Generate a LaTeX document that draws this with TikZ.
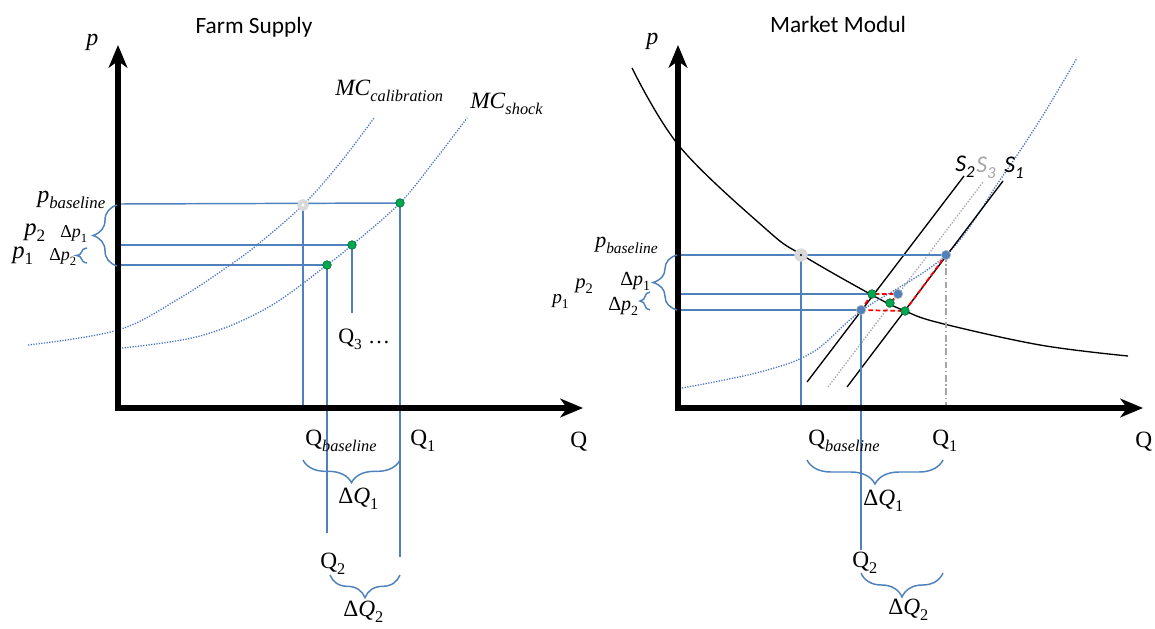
\documentclass[tikz,border=0pt]{standalone}
\usepackage{fontspec}
\setmainfont{Liberation Serif}
\newfontfamily\calibri{Carlito}
\usetikzlibrary{arrows.meta,decorations.pathreplacing}
\definecolor{lineblue}{HTML}{4F81BD}
\definecolor{dotblue}{HTML}{4472C4}
\definecolor{ptgreen}{HTML}{00A650}
\definecolor{ptblue}{HTML}{4F81BD}
\definecolor{ptgrey}{HTML}{D9D9D9}
\definecolor{sgrey}{HTML}{A6A6A6}
\newcommand{\fs}[1]{\fontsize{#1}{#1}\selectfont}
\newcommand{\sbs}[1]{\lower0.12em\hbox{\textsubscript{#1}}}
\begin{document}
\begin{tikzpicture}[x=0.75pt,y=-0.75pt,
  axis/.style={line width=4.5pt,-{Stealth[length=17pt,width=14pt,inset=5pt]}},
  bline/.style={draw=lineblue,line width=1.1pt},
  mcurve/.style={draw=dotblue,line width=1pt,dash pattern=on 0.9pt off 1.1pt},
  dcurve/.style={draw=black,line width=1pt},
  bbrace/.style={draw=lineblue,line width=1.1pt,decorate,decoration={brace,amplitude=#1}},
  lbl/.style={inner sep=0pt,anchor=base west},
  ptg/.style={circle,fill=ptgreen,draw=ptgreen!60!black,line width=0.4pt,minimum size=6.5pt,inner sep=0pt},
  ptb/.style={circle,fill=ptblue,draw=gray!60,line width=0.5pt,minimum size=7pt,inner sep=0pt},
  ptgr/.style={circle,fill=ptgrey,draw=ptgrey,minimum size=8.5pt,inner sep=0pt},
  redd/.style={draw=red,line width=1.3pt,dash pattern=on 3.5pt off 2pt}
]
\useasboundingbox (0,0) rectangle (1155,628);

%================ LEFT PANEL =================
\node[inner sep=0pt,anchor=base] (t1) at (254,33) {\calibri\fs{17.5}Farm Supply};
% curves
\draw[mcurve] plot[smooth,tension=0.6] coordinates {(28,345) (118,330) (180,298) (230,265) (257,245) (303,205) (340,163) (374,118)};
\draw[mcurve] plot[smooth,tension=0.6] coordinates {(122,348) (200,336) (267,308) (327,265) (352,245) (400,203) (435,160) (467,118)};
\node[lbl] (mcc) at (335,95) {\fs{17.5}\textit{MC}\sbs{\textit{calibration}}};
\node[lbl] (mcs) at (470,108) {\fs{17.5}\textit{MC}\sbs{\textit{shock}}};
% points
\coordinate (LPb) at (303,205);
\coordinate (LP1) at (400,203);
\coordinate (LP3) at (352,245);
\coordinate (LP2) at (327,265);
\coordinate (LAb) at (119,204);
\coordinate (LA3) at (119,245);
\coordinate (LA2) at (119,265);
\coordinate (LXb) at (303,408);
\coordinate (LX1) at (400,557);
\coordinate (LX2) at (327,533);
\coordinate (LX3) at (352,313);
\draw[bline] (LAb) -- (LP1);
\draw[bline] (LA3) -- (LP3);
\draw[bline] (LA2) -- (LP2);
\draw[bline] (LPb) -- (LXb);
\draw[bline] (LP1) -- (LX1);
\draw[bline] (LP2) -- (LX2);
\draw[bline] (LP3) -- (LX3);
% axes
\draw[axis] (115,408) -- (583,408);
\draw[axis] (118,411) -- (118,45);
\node[lbl] (lp) at (86,45) {\fs{18}\textit{p}};
\node[lbl] (lq) at (570,447) {\fs{17.5}Q};
% point markers
\node[ptgr] (lpbm) at (LPb) {};
\fill[white] (LPb) circle (1.2pt);
\node[ptg] (lp1m) at (LP1) {};
\node[ptg] (lp3m) at (LP3) {};
\node[ptg] (lp2m) at (LP2) {};
% braces
\draw[bbrace=18pt] (117,266) -- (117,205);
\draw[bbrace=8pt] (87,263) -- (87,248);
\draw[bbrace=17pt] (400,460) -- (303,460);
\draw[bbrace=17pt] (400,575) -- (330,575);
% labels
\node[lbl] (lpb) at (37,202) {\fs{18}\textit{p}\sbs{\textit{baseline}}};
\node[lbl] (lp2) at (24,235) {\fs{18.5}\textit{p}\sbs{2}};
\node[lbl] (lp1) at (12,258) {\fs{18.5}\textit{p}\sbs{1}};
\node[lbl] (ldp1) at (60,237) {\fs{13.5}Δ\textit{p}\sbs{1}};
\node[lbl] (ldp2) at (49,260) {\fs{13.5}Δ\textit{p}\sbs{2}};
\node[lbl] (lq3) at (338,343) {\fs{16.5}Q\sbs{3} …};
\node[lbl] (lqb) at (305,445) {\fs{17.5}Q\sbs{\textit{baseline}}};
\node[lbl] (lq1) at (410,445) {\fs{17.5}Q\sbs{1}};
\node[lbl] (ldq1) at (338,503) {\fs{17.5}Δ\textit{Q}\sbs{1}};
\node[lbl] (lq2) at (320,568) {\fs{17.5}Q\sbs{2}};
\node[lbl] (ldq2) at (343,616) {\fs{17.5}Δ\textit{Q}\sbs{2}};

%================ RIGHT PANEL =================
\node[inner sep=0pt,anchor=base] (t2) at (838,32) {\calibri\fs{17.5}Market Modul};
% demand
\draw[dcurve] plot[smooth,tension=0.6] coordinates {(632,68) (680,147) (767,230) (802,255) (872,295) (905,311) (940,323) (1040,345) (1128,356)};
% MC dotted
\draw[mcurve] plot[smooth,tension=0.6] coordinates {(682,388) (760,372) (813,352) (861,311) (946,255) (1000,180) (1040,120) (1077,58)};
% supply lines
\draw[dcurve] (807,382) -- (964,176);
\draw[draw=sgrey,line width=1pt,dash pattern=on 1pt off 1.2pt] (828,387) -- (983,182);
\draw[dcurve] (847,387) -- (1003,181);
\node[lbl] (s2) at (955,171) {\calibri\itshape\fs{18}S\sbs{2}};
\node[lbl] (s3) at (976,172) {\calibri\itshape\fs{18}\color{sgrey}S\sbs{3}};
\node[lbl] (s1) at (1004,172) {\calibri\itshape\fs{18}S\sbs{1}};
% points
\coordinate (RPb) at (801,255);
\coordinate (RP1) at (946,255);
\coordinate (RG1) at (872,294);
\coordinate (RB1) at (898,294);
\coordinate (RG2) at (890,303);
\coordinate (RB2) at (861,310);
\coordinate (RG3) at (905,311);
\coordinate (RAb) at (680,255);
\coordinate (RA2) at (680,294);
\coordinate (RA1) at (680,310);
\coordinate (RXb) at (801,408);
\coordinate (RX2) at (861,550);
\coordinate (RX1) at (946,408);
\draw[bline] (RAb) -- (RP1);
\draw[bline] (RA2) -- (RG1);
\draw[bline] (RA1) -- (RB2);
\draw[bline] (RPb) -- (RXb);
\draw[bline] (RB2) -- (RX2);
\draw[draw=gray!70,line width=0.8pt,dash pattern=on 5pt off 2pt on 1pt off 2pt] (RP1) -- (RX1);
% red dashed
\draw[redd] (RB2) -- (RG1) -- (RB1) -- (RG2);
\draw[redd] (RB2) -- (RG3) -- (RP1);
% axes
\draw[axis] (675,408) -- (1143,408);
\draw[axis] (678,411) -- (678,45);
\node[lbl] (rp) at (646,44) {\fs{18}\textit{p}};
\node[lbl] (rq) at (1135,447) {\fs{17.5}Q};
% markers
\node[ptgr,minimum size=9.5pt] (rpbm) at (RPb) {};
\fill[black] (RPb) circle (0.8pt);
\node[ptb] (rp1m) at (RP1) {};
\node[ptg] (rg1m) at (RG1) {};
\node[ptb] (rb1m) at (RB1) {};
\node[ptg] (rg2m) at (RG2) {};
\node[ptb] (rb2m) at (RB2) {};
\node[ptg] (rg3m) at (RG3) {};
% braces
\draw[bbrace=18pt] (677,310) -- (677,255);
\draw[bbrace=7.5pt] (650,310) -- (650,292);
\draw[bbrace=18pt] (943,460) -- (807,460);
\draw[bbrace=18pt] (943,573) -- (861,573);
% labels
\node[lbl] (rpb) at (595,247) {\fs{16.5}\textit{p}\sbs{\textit{baseline}}};
\node[lbl] (rp2) at (575,288) {\fs{15.5}\textit{p}\sbs{2}};
\node[lbl] (rp1) at (552,303) {\fs{14.5}\textit{p}\sbs{1}};
\node[lbl] (rdp1) at (620,285) {\fs{15}Δ\textit{p}\sbs{1}};
\node[lbl] (rdp2) at (608,310) {\fs{15}Δ\textit{p}\sbs{2}};
\node[lbl] (rqb) at (808,445) {\fs{17.5}Q\sbs{\textit{baseline}}};
\node[lbl] (rq1) at (932,445) {\fs{17.5}Q\sbs{1}};
\node[lbl] (rdq1) at (863,505) {\fs{17.5}Δ\textit{Q}\sbs{1}};
\node[lbl] (rq2) at (852,567) {\fs{17.5}Q\sbs{2}};
\node[lbl] (rdq2) at (888,614) {\fs{17.5}Δ\textit{Q}\sbs{2}};
\end{tikzpicture}
\end{document}
